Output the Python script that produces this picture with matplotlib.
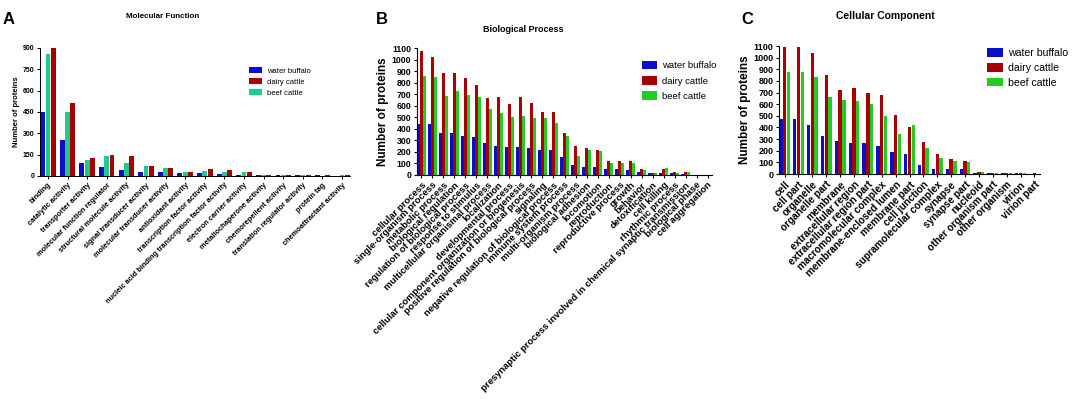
import matplotlib.pyplot as plt
import numpy as np

plt.rcParams['font.family'] = ['Liberation Sans', 'DejaVu Sans']

BLUE = '#0a0fc8'
RED = '#a80000'
GREEN_A = '#1ecb8c'
GREEN = '#22cc22'

# Molecular Function
mf_labels = ['binding', 'catalytic activity', 'transporter activity',
             'molecular function regulator', 'structural molecule activity',
             'signal transducer activity', 'molecular transducer activity',
             'antioxidant activity', 'transcription factor activity',
             'nucleic acid binding transcription factor activity',
             'electron carrier activity', 'metallochaperone activity',
             'chemorepellent activity', 'translation regulator activity',
             'protein tag', 'chemoattractant activity']
mf_buffalo = [450, 250, 90, 60, 40, 30, 25, 20, 20, 15, 10, 5, 5, 5, 5, 0]
mf_beef = [855, 450, 115, 140, 90, 70, 55, 25, 35, 30, 25, 5, 5, 5, 0, 5]
mf_dairy = [900, 510, 125, 150, 140, 70, 55, 25, 50, 45, 30, 5, 5, 10, 5, 10]

# Biological Process
bp_labels = ['cellular process', 'single-organism process', 'metabolic process',
             'biological regulation', 'regulation of biological process',
             'response to stimulus', 'multicellular organismal process',
             'localization', 'developmental process',
             'cellular component organization or biogenesis',
             'positive regulation of biological process', 'signaling',
             'negative regulation of biological process', 'immune system process',
             'multi-organism process', 'biological adhesion', 'locomotion',
             'reproduction', 'reproductive process', 'growth', 'behavior',
             'detoxification', 'cell killing', 'rhythmic process',
             'presynaptic process involved in chemical synaptic transmission',
             'biological phase', 'cell aggregation']
bp_buffalo = [445, 440, 365, 360, 340, 330, 275, 255, 245, 245, 235, 220, 215,
              155, 85, 70, 65, 55, 50, 40, 25, 20, 15, 15, 10, 1, 1]
bp_dairy = [1075, 1020, 880, 880, 840, 780, 665, 675, 615, 675, 620, 550, 545,
            365, 250, 235, 220, 125, 125, 120, 50, 20, 50, 30, 25, 1, 1]
bp_beef = [860, 845, 680, 725, 690, 675, 570, 535, 505, 510, 495, 495, 450,
           335, 165, 220, 205, 100, 100, 105, 45, 20, 60, 20, 25, 1, 1]

# Cellular Component
cc_labels = ['cell', 'cell part', 'organelle', 'organelle part', 'membrane',
             'extracellular region', 'extracellular region part',
             'macromolecular complex', 'membrane-enclosed lumen', 'membrane part',
             'cell junction', 'supramolecular complex', 'synapse', 'synapse part',
             'nucleoid', 'other organism part', 'other organism', 'virion',
             'virion part']
cc_buffalo = [475, 475, 425, 330, 285, 270, 270, 240, 190, 175, 80, 45, 45, 40,
              10, 5, 5, 5, 0]
cc_dairy = [1095, 1095, 1040, 855, 725, 735, 700, 675, 505, 400, 275, 170, 125,
            110, 15, 5, 5, 5, 5]
cc_beef = [880, 880, 835, 665, 635, 625, 600, 500, 345, 420, 220, 140, 110, 100,
           15, 5, 5, 5, 0]

W, H = 1076, 399
fig = plt.figure(figsize=(W / 100, H / 100), dpi=100)


def px_axes(x0, x1, y_top, y_bot):
    return fig.add_axes([x0 / W, 1 - y_bot / H, (x1 - x0) / W, (y_bot - y_top) / H])


def draw(ax, labels, series, colors, names, ymax, ystep, fs_tick, fs_x, fs_ylab, lw=0.8):
    n = len(labels)
    x = np.arange(n)
    bw = 0.27
    for i, (vals, c, nm) in enumerate(zip(series, colors, names)):
        ax.bar(x + (i - 1) * bw, vals, width=bw * 0.92, color=c, label=nm, linewidth=0)
    ax.set_xlim(-1.5 * bw, n - 1 + 1.5 * bw)
    ax.set_ylim(0, ymax)
    ax.set_yticks(np.arange(0, ymax + 1, ystep))
    ax.set_xticks(x)
    ax.set_xticklabels(labels, rotation=45, ha='right', rotation_mode='anchor',
                       fontsize=fs_x, fontweight='bold')
    for t in ax.get_yticklabels():
        t.set_fontsize(fs_tick)
        t.set_fontweight('bold')
    ax.set_ylabel('Number of proteins', fontsize=fs_ylab, fontweight='bold', labelpad=2)
    ax.spines['top'].set_visible(False)
    ax.spines['right'].set_visible(False)
    ax.spines['left'].set_linewidth(lw)
    ax.spines['bottom'].set_linewidth(lw)
    ax.tick_params(direction='out', length=2.5, width=lw, pad=1.5)


# Panel A
axA = px_axes(40, 350, 48, 176)
draw(axA, mf_labels, [mf_buffalo, mf_beef, mf_dairy], [BLUE, GREEN_A, RED],
     ['water buffalo', 'beef cattle', 'dairy cattle'], 900, 150, 5, 5.3, 5.5, lw=0.7)
hA, lA = axA.get_legend_handles_labels()
fig.legend([hA[0], hA[2], hA[1]], [lA[0], lA[2], lA[1]], loc='upper left',
           bbox_to_anchor=(249 / W, 1 - 67 / H), frameon=False, fontsize=5.5,
           borderpad=0, borderaxespad=0, handlelength=1.75, handleheight=0.9,
           handletextpad=0.6, labelspacing=0.4)

# Panel B
axB = px_axes(417, 712, 48, 175)
draw(axB, bp_labels, [bp_buffalo, bp_dairy, bp_beef], [BLUE, RED, GREEN],
     ['water buffalo', 'dairy cattle', 'beef cattle'], 1100, 100, 6.3, 6.8, 8.5)
fig.legend(loc='upper left', bbox_to_anchor=(642 / W, 1 - 61 / H), frameon=False,
           fontsize=6.8, borderpad=0, borderaxespad=0, handlelength=1.55,
           handleheight=1.0, handletextpad=0.6, labelspacing=0.6,
           handles=axB.get_legend_handles_labels()[0])

# Panel C
axC = px_axes(779, 1040, 46, 174)
draw(axC, cc_labels, [cc_buffalo, cc_dairy, cc_beef], [BLUE, RED, GREEN],
     ['water buffalo', 'dairy cattle', 'beef cattle'], 1100, 100, 6.5, 7.2, 8.5)
fig.legend(loc='upper left', bbox_to_anchor=(987 / W, 1 - 48 / H), frameon=False,
           fontsize=7.6, borderpad=0, borderaxespad=0, handlelength=1.5,
           handleheight=0.9, handletextpad=0.5, labelspacing=0.45,
           handles=axC.get_legend_handles_labels()[0])

# titles and panel letters
fig.text(163 / W, 1 - 17 / H, 'Molecular Function', ha='center', va='center',
         fontsize=5.8, fontweight='bold')
fig.text(523 / W, 1 - 29 / H, 'Biological Process', ha='center', va='center',
         fontsize=6.5, fontweight='bold')
fig.text(885 / W, 1 - 16 / H, 'Cellular Component', ha='center', va='center',
         fontsize=7.5, fontweight='bold')
fig.text(3 / W, 1 - 19 / H, 'A', ha='left', va='center', fontsize=12, fontweight='bold')
fig.text(376 / W, 1 - 20 / H, 'B', ha='left', va='center', fontsize=12, fontweight='bold')
fig.text(741 / W, 1 - 20 / H, 'C', ha='left', va='center', fontsize=12, fontweight='bold')

plt.savefig('out.png', dpi=100)
